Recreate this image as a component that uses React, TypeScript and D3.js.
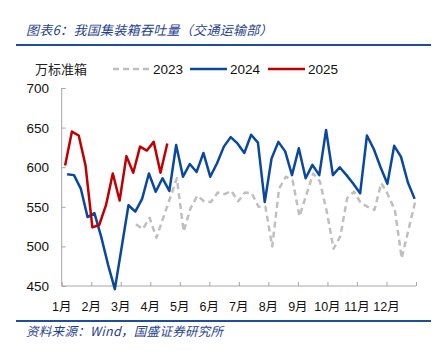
import * as d3 from 'd3';
import { useEffect, useRef } from 'react';

// weekly container throughput, 万标准箱
const months = ['1月', '2月', '3月', '4月', '5月', '6月', '7月', '8月', '9月', '10月', '11月', '12月'];
const yTicks = [450, 500, 550, 600, 650, 700];

// first point position, in weeks from Jan 1
const start2023 = 10.9;
const start2024 = 0.8;
const start2025 = 0.5;

const values2023 = [
  528, 522, 536, 511, 536, 561, 586, 519, 548, 564, 557, 556, 568, 566, 570, 557, 568, 567, 550, 550,
  500, 573, 588, 583, 538, 565, 592, 582, 544, 497, 513, 561, 569, 555, 550, 546, 580, 565, 546, 485,
  521, 557,
];
const values2024 = [
  591, 590, 573, 537, 542, 512, 477, 446, 499, 552, 544, 560, 592, 569, 586, 570, 628, 588, 604, 594,
  618, 588, 605, 626, 638, 630, 618, 641, 631, 556, 611, 632, 620, 590, 624, 586, 603, 590, 647, 590,
  600, 590, 579, 567, 640, 623, 600, 579, 627, 613, 581, 560,
];
const values2025 = [602, 645, 640, 602, 524, 527, 552, 592, 558, 614, 593, 626, 621, 632, 593, 630];

const series = [
  { name: '2023', start: start2023, values: values2023, color: '#bfbfbf', dash: '6,4' },
  { name: '2024', start: start2024, values: values2024, color: '#0a48a0', dash: null },
  { name: '2025', start: start2025, values: values2025, color: '#c00000', dash: null },
];

const W = 442;
const H = 351;
const cjk = '"Noto Sans CJK SC", sans-serif';
const num = '"Liberation Sans", "Noto Sans CJK SC", sans-serif';

export default function App() {
  const ref = useRef<SVGSVGElement>(null);

  useEffect(() => {
    const svg = d3.select(ref.current);
    svg.selectAll('*').remove();

    svg.append('rect').attr('width', W).attr('height', H).attr('fill', '#fff');

    const x = d3.scaleLinear().domain([0, 52]).range([61.7, 416]);
    const y = d3.scaleLinear().domain([450, 700]).range([286, 88]);

    // header
    svg
      .append('text')
      .attr('x', 26)
      .attr('y', 35)
      .attr('font-family', cjk)
      .attr('font-style', 'italic')
      .attr('font-size', 13)
      .attr('letter-spacing', 0.3)
      .attr('fill', '#1f3f8f')
      .text('图表6：我国集装箱吞吐量（交通运输部）');
    svg.append('line').attr('x1', 16).attr('x2', 431).attr('y1', 45).attr('y2', 45)
      .attr('stroke', '#1f4e9c').attr('stroke-width', 2);

    // footer
    svg.append('line').attr('x1', 16).attr('x2', 431).attr('y1', 321).attr('y2', 321)
      .attr('stroke', '#1f4e9c').attr('stroke-width', 2);
    svg
      .append('text')
      .attr('x', 26)
      .attr('y', 336)
      .attr('font-family', cjk)
      .attr('font-style', 'italic')
      .attr('font-size', 12.5)
      .attr('letter-spacing', 0.3)
      .attr('fill', '#1f3f8f')
      .text('资料来源：Wind，国盛证券研究所');

    // unit + legend
    svg.append('text').attr('x', 35).attr('y', 74).attr('font-family', cjk)
      .attr('font-size', 13).attr('fill', '#222').text('万标准箱');

    const legendX = [113, 190, 268];
    series.forEach((s, i) => {
      const lx = legendX[i];
      svg.append('line').attr('x1', lx).attr('x2', lx + 37).attr('y1', 69).attr('y2', 69)
        .attr('stroke', s.color).attr('stroke-width', 2.5)
        .attr('stroke-dasharray', s.dash);
      svg.append('text').attr('x', lx + 40).attr('y', 74).attr('font-family', num)
        .attr('font-size', 13.5).attr('fill', '#111').text(s.name);
    });

    // axes
    const axisColor = '#a6a6a6';
    const yAxis = svg
      .append('g')
      .attr('transform', 'translate(61.7,0)')
      .call(d3.axisRight(y).tickValues(yTicks).tickSize(4).tickFormat(() => ''));
    yAxis.select('.domain').attr('stroke', axisColor).attr('d', `M0,88V286`);
    yAxis.selectAll('line').attr('stroke', axisColor);

    svg
      .append('g')
      .selectAll('text')
      .data(yTicks)
      .join('text')
      .attr('x', 49)
      .attr('y', (d) => y(d) + 5)
      .attr('text-anchor', 'end')
      .attr('font-family', num)
      .attr('font-size', 13.5)
      .attr('fill', '#111')
      .text((d) => d);

    const monthX = d3.scaleLinear().domain([0, 12]).range([61.7, 416]);
    const xAxis = svg
      .append('g')
      .attr('transform', 'translate(0,286)')
      .call(d3.axisTop(monthX).ticks(12).tickSize(4).tickFormat(() => ''));
    xAxis.select('.domain').attr('stroke', axisColor).attr('d', 'M61.7,0H416');
    xAxis.selectAll('line').attr('stroke', axisColor);

    svg
      .append('g')
      .selectAll('text')
      .data(months)
      .join('text')
      .attr('x', (_, i) => monthX(i))
      .attr('y', 311)
      .attr('text-anchor', 'middle')
      .attr('font-family', num)
      .attr('font-size', 12.5)
      .attr('fill', '#111')
      .text((d) => d);

    // lines
    series.forEach((s) => {
      const line = d3
        .line<number>()
        .x((_, i) => x(s.start + i))
        .y((d) => y(d));
      svg
        .append('path')
        .datum(s.values)
        .attr('fill', 'none')
        .attr('stroke', s.color)
        .attr('stroke-width', 2.5)
        .attr('stroke-linejoin', 'round')
        .attr('stroke-dasharray', s.dash)
        .attr('d', line);
    });
  }, []);

  return (
    <svg
      ref={ref}
      width={W}
      height={H}
      style={{ position: 'absolute', left: 0, top: 0, display: 'block' }}
    />
  );
}
